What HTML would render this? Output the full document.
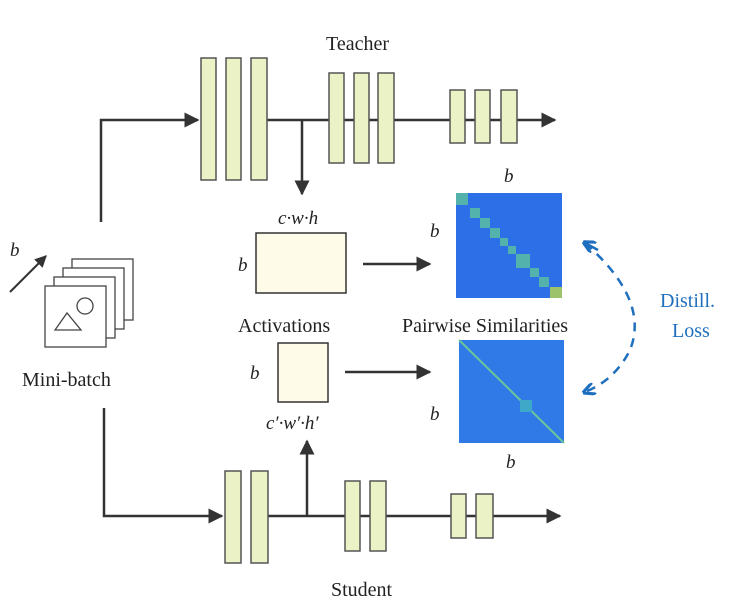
<!DOCTYPE html>
<html><head><style>body{margin:0;background:#fff}svg text{font-family:"Liberation Serif",serif}</style></head><body>
<svg width="743" height="609" viewBox="0 0 743 609" xmlns="http://www.w3.org/2000/svg">
<defs>
<marker id="a" viewBox="0 0 10 10" refX="9" refY="5" markerWidth="6" markerHeight="6" orient="auto"><path d="M0,0L10,5L0,10z" fill="#333"/></marker>
<marker id="b" viewBox="0 0 10 10" refX="8" refY="5" markerWidth="5" markerHeight="5" orient="auto"><path d="M0,0L10,5L0,10" fill="none" stroke="#1f6fbf" stroke-width="2.5"/></marker>
</defs>
<g stroke="#333" stroke-width="2.5" fill="none">
<path d="M101,222V120H198" marker-end="url(#a)"/>
<path d="M267,120H555" marker-end="url(#a)"/>
<path d="M302,120V194" marker-end="url(#a)"/>
<path d="M104,408V516H222" marker-end="url(#a)"/>
<path d="M268,516H560" marker-end="url(#a)"/>
<path d="M307,516V441" marker-end="url(#a)"/>
<path d="M363,264H430" marker-end="url(#a)"/>
<path d="M345,372H430" marker-end="url(#a)"/>
<path d="M10,292L46,256" marker-end="url(#a)" stroke-width="2"/>
</g>
<g fill="#eaf2c6" stroke="#555" stroke-width="1.5">
<rect x="201" y="58" width="15" height="122"/><rect x="226" y="58" width="15" height="122"/><rect x="251" y="58" width="16" height="122"/>
<rect x="329" y="73" width="15" height="90"/><rect x="354" y="73" width="15" height="90"/><rect x="378" y="73" width="16" height="90"/>
<rect x="450" y="90" width="15" height="53"/><rect x="475" y="90" width="15" height="53"/><rect x="501" y="90" width="16" height="53"/>
<rect x="225" y="471" width="16" height="92"/><rect x="251" y="471" width="17" height="92"/>
<rect x="345" y="481" width="15" height="70"/><rect x="370" y="481" width="16" height="70"/>
<rect x="451" y="494" width="15" height="44"/><rect x="476" y="494" width="17" height="44"/>
</g>
<g fill="#fefbe9" stroke="#333" stroke-width="1.5">
<rect x="256" y="233" width="90" height="60"/><rect x="278" y="343" width="50" height="59"/>
</g>
<g fill="#fff" stroke="#444" stroke-width="1.3">
<rect x="72" y="259" width="61" height="61"/><rect x="63" y="268" width="61" height="61"/><rect x="54" y="277" width="61" height="61"/><rect x="45" y="286" width="61" height="61"/>
<circle cx="85" cy="306" r="8"/><path d="M55,330L67,313L81,330z"/>
</g>
<rect x="456" y="193" width="106" height="105" fill="#2d6fe6"/>
<g fill="#5ec3a0" opacity=".8">
<rect x="456" y="193" width="12" height="12"/><rect x="470" y="208" width="10" height="10"/><rect x="480" y="218" width="10" height="10"/><rect x="490" y="228" width="10" height="10"/><rect x="500" y="238" width="8" height="8"/><rect x="508" y="246" width="8" height="8"/><rect x="516" y="254" width="14" height="14"/><rect x="530" y="268" width="9" height="9"/><rect x="539" y="277" width="10" height="10"/><rect x="550" y="287" width="12" height="11" fill="#b8d84a"/>
</g>
<rect x="459" y="340" width="105" height="103" fill="#2f7ae6"/>
<path d="M459,340L564,443" stroke="#6cc49a" stroke-width="2"/>
<rect x="520" y="400" width="12" height="12" fill="#3fa8c8"/>
<path d="M585,243Q650,300 630,350Q615,380 585,392" fill="none" stroke="#1f6fbf" stroke-width="2.5" stroke-dasharray="9,7" marker-end="url(#b)"/>
<path d="M630,300Q630,260 585,243" fill="none" stroke="none"/>
<path d="M598,250L585,243" stroke="#1f6fbf" stroke-width="2.5" marker-end="url(#b)"/>
<g font-size="20" fill="#222">
<text x="326" y="50">Teacher</text>
<text x="331" y="596">Student</text>
<text x="238" y="332">Activations</text>
<text x="402" y="332">Pairwise Similarities</text>
<text x="22" y="386">Mini-batch</text>
<text x="660" y="307" fill="#1f6fbf">Distill.</text>
<text x="672" y="337" fill="#1f6fbf">Loss</text>
</g>
<g font-size="19" font-style="italic" fill="#222">
<text x="10" y="256">b</text><text x="238" y="271">b</text><text x="250" y="379">b</text>
<text x="278" y="224">c·w·h</text><text x="266" y="429">c′·w′·h′</text>
<text x="504" y="182">b</text><text x="430" y="237">b</text><text x="430" y="420">b</text><text x="506" y="468">b</text>
</g>
</svg>
</body></html>
